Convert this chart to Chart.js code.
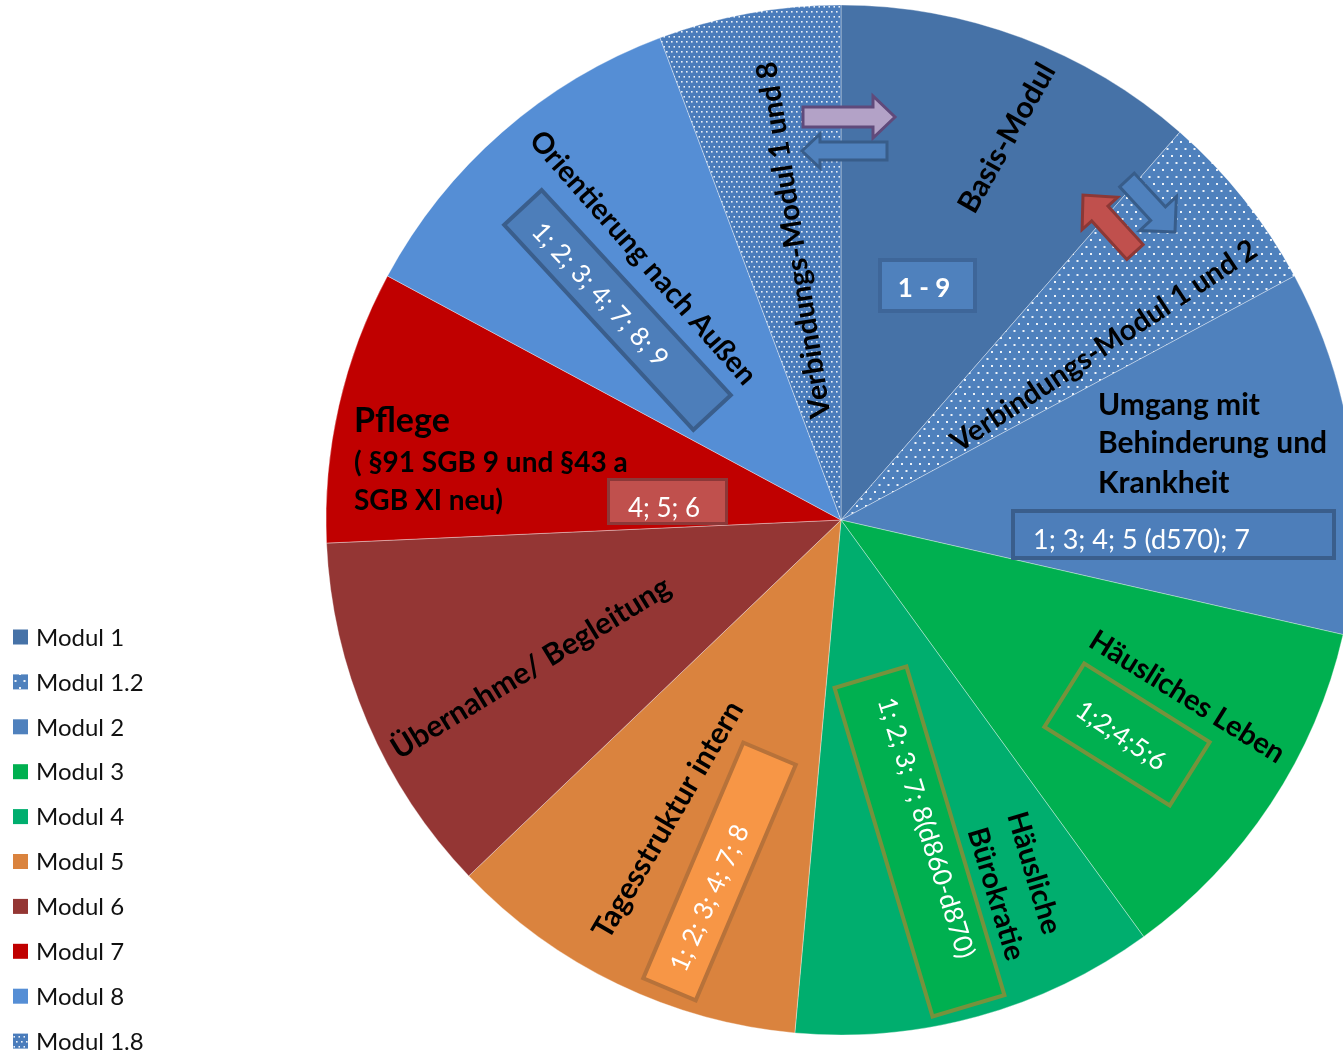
<!DOCTYPE html>
<html>
<head>
<meta charset="utf-8">
<script src="https://cdn.jsdelivr.net/npm/chart.js@4.4.1/dist/chart.umd.min.js"></script>
<style>
  html, body { margin: 0; padding: 0; background: #fff; overflow: hidden; }
  #wrap { position: absolute; left: 0; top: 0; width: 1343px; height: 1053px; }
</style>
</head>
<body>
<div id="wrap"><canvas id="pieChart"></canvas></div>
<script>
// data
var labels = ['Modul 1', 'Modul 1.2', 'Modul 2', 'Modul 3', 'Modul 4', 'Modul 5', 'Modul 6', 'Modul 7', 'Modul 8', 'Modul 1.8'];
var shares = [2, 1, 2, 2, 2, 2, 2, 1.5, 2, 1];
var sliceColors = ['#4672A7', 'dots12', '#4F81BD', '#00B050', '#00AE6E', '#DA833E', '#943634', '#C00000', '#558ED5', 'dots18'];

var FONT = 'Lato, "Open Sans", sans-serif';

// dotted fills for the connection slices
function dotPattern(bg, w, h, dots, size) {
  var c = document.createElement('canvas');
  c.width = w; c.height = h;
  var g = c.getContext('2d');
  g.fillStyle = bg;
  g.fillRect(0, 0, w, h);
  g.fillStyle = 'rgba(255,255,255,0.9)';
  dots.forEach(function (d) { g.fillRect(d[0], d[1], size, size); });
  return g.createPattern(c, 'repeat');
}
var pat = {
  dots12: dotPattern('#4F81BD', 9, 14, [[1, 1], [5.5, 8]], 2),
  dots18: dotPattern('#4A7CBB', 5, 10, [[1, 1], [3.5, 6]], 1.6)
};
var fills = sliceColors.map(function (c) { return pat[c] || c; });

function rotText(ctx, txt, x, y, deg, font, color) {
  ctx.save();
  ctx.translate(x, y);
  ctx.rotate(deg * Math.PI / 180);
  ctx.font = font;
  ctx.fillStyle = color;
  ctx.textAlign = 'center';
  ctx.textBaseline = 'middle';
  ctx.fillText(txt, 0, 0);
  ctx.restore();
}

function rotBox(ctx, x, y, w, h, deg, fill, stroke, lw) {
  ctx.save();
  ctx.translate(x, y);
  ctx.rotate(deg * Math.PI / 180);
  ctx.fillStyle = fill;
  ctx.fillRect(-w / 2, -h / 2, w, h);
  ctx.lineWidth = lw;
  ctx.strokeStyle = stroke;
  ctx.strokeRect(-w / 2, -h / 2, w, h);
  ctx.restore();
}

function blockArrow(ctx, tx, ty, px, py, sh, hl, hh, fill, stroke) {
  var len = Math.hypot(px - tx, py - ty);
  ctx.save();
  ctx.translate(tx, ty);
  ctx.rotate(Math.atan2(py - ty, px - tx));
  ctx.beginPath();
  ctx.moveTo(0, -sh);
  ctx.lineTo(len - hl, -sh);
  ctx.lineTo(len - hl, -hh);
  ctx.lineTo(len, 0);
  ctx.lineTo(len - hl, hh);
  ctx.lineTo(len - hl, sh);
  ctx.lineTo(0, sh);
  ctx.closePath();
  ctx.fillStyle = fill;
  ctx.fill();
  ctx.lineWidth = 3;
  ctx.strokeStyle = stroke;
  ctx.lineJoin = 'miter';
  ctx.stroke();
  ctx.restore();
}

var annotations = {
  id: 'annotations',
  afterDatasetsDraw: function (chart) {
    var ctx = chart.ctx;
    var arc = chart.getDatasetMeta(0).data[0];
    var cx = arc.x, cy = arc.y, k = arc.outerRadius / 515;
    function X(d) { return cx + d * k; }
    function Y(d) { return cy + d * k; }
    var B = function (s) { return 'bold ' + Math.round(s * k) + 'px ' + FONT; };
    var N = function (s) { return Math.round(s * k) + 'px ' + FONT; };

    // Modul 1
    rotText(ctx, 'Basis-Modul', X(166), Y(-382), -60.5, B(30), '#000');
    rotBox(ctx, X(86.5), Y(-234.5), 95 * k, 51 * k, 0, '#4F81BD', '#3E6699', 4);
    rotText(ctx, '1 - 9', X(83), Y(-231), 0, B(26), '#fff');
    // Modul 1.8 / 1.2
    rotText(ctx, 'Verbindungs-Modul 1 und 8', X(-47), Y(-280), -98.8, B(29), '#000');
    rotText(ctx, 'Verbindungs-Modul 1 und 2', X(263), Y(-174), -33.4, B(29), '#000');
    blockArrow(ctx, X(-38), Y(-403), X(54), Y(-403), 10 * k, 22 * k, 21 * k, '#B3A2C7', '#604A7B');
    blockArrow(ctx, X(46), Y(-369), X(-39), Y(-369), 9 * k, 18 * k, 17 * k, '#4F81BD', '#385D8A');
    blockArrow(ctx, X(294), Y(-268), X(242), Y(-325), 11 * k, 25 * k, 24 * k, '#C0504D', '#8C3836');
    blockArrow(ctx, X(286), Y(-340), X(334), Y(-288), 10 * k, 25 * k, 25 * k, '#4F81BD', '#385D8A');
    // Modul 2
    ctx.font = B(30);
    ctx.fillStyle = '#000';
    ctx.textAlign = 'left';
    ctx.textBaseline = 'alphabetic';
    ctx.fillText('Umgang mit', X(257), Y(-105));
    ctx.fillText('Behinderung und', X(257), Y(-67));
    ctx.fillText('Krankheit', X(257), Y(-27));
    rotBox(ctx, X(332.5), Y(14.5), 321 * k, 47 * k, 0, '#4D7EBA', '#3A5E8C', 4);
    ctx.font = N(27);
    ctx.fillStyle = '#fff';
    ctx.textAlign = 'left';
    ctx.fillText('1; 3; 4; 5 (d570); 7', X(192), Y(29));
    // Modul 3
    rotText(ctx, 'Häusliches Leben', X(346), Y(177), 31.9, B(28.5), '#000');
    rotBox(ctx, X(286), Y(214.5), 148 * k, 75 * k, 32.1, '#00B050', '#76923C', 4);
    rotText(ctx, '1;2;4;5;6', X(280), Y(216), 34, N(26), '#fff');
    // Modul 4
    rotBox(ctx, X(78.5), Y(321.5), 343 * k, 75 * k, 73.4, '#00B050', '#76923C', 4);
    rotText(ctx, '1; 2; 3; 7; 8(d860-d870)', X(85), Y(308), 72.7, N(26), '#fff');
    rotText(ctx, 'Häusliche', X(193), Y(353), 73.3, B(29), '#000');
    rotText(ctx, 'Bürokratie', X(155), Y(374), 73.3, B(29), '#000');
    // Modul 5
    rotText(ctx, 'Tagesstruktur intern', X(-173), Y(300), -59.7, B(30), '#000');
    rotBox(ctx, X(-121.5), Y(351.5), 256 * k, 57 * k, -67, '#F79646', '#B7723A', 4);
    rotText(ctx, '1; 2; 3; 4; 7; 8', X(-131), Y(378), -66, N(26), '#fff');
    // Modul 6
    rotText(ctx, 'Übernahme/ Begleitung', X(-310), Y(148), -31.4, B(30), '#000');
    // Modul 7
    ctx.font = B(34);
    ctx.fillStyle = '#000';
    ctx.textAlign = 'left';
    ctx.textBaseline = 'alphabetic';
    ctx.fillText('Pflege', X(-487), Y(-88));
    ctx.font = B(28);
    ctx.fillText('( §91 SGB 9 und §43 a', X(-487), Y(-48));
    ctx.fillText('SGB XI neu)', X(-487), Y(-10));
    rotBox(ctx, X(-173.5), Y(-18.5), 118 * k, 44 * k, 0, '#C0504D', '#8C3838', 3);
    ctx.font = N(26);
    ctx.fillStyle = '#fff';
    ctx.textAlign = 'center';
    ctx.fillText('4; 5; 6', X(-177), Y(-3));
    // Modul 8
    rotText(ctx, 'Orientierung nach Außen', X(-198), Y(-262), 48.7, B(29), '#000');
    rotBox(ctx, X(-223.5), Y(-210), 279 * k, 51 * k, 47.3, '#4D7EBA', '#3A5E8C', 4);
    rotText(ctx, '1; 2; 3; 4; 7; 8; 9', X(-241), Y(-225), 47, N(26), '#fff');
  }
};

// legend drawn at the lower left
var sideLegend = {
  id: 'sideLegend',
  afterDraw: function (chart) {
    var ctx = chart.ctx;
    var ds = chart.data.datasets[0];
    ctx.save();
    ctx.font = '24px ' + FONT;
    ctx.textAlign = 'left';
    ctx.textBaseline = 'middle';
    chart.data.labels.forEach(function (lab, i) {
      var y = 637 + i * 44.9;
      ctx.fillStyle = ds.backgroundColor[i];
      ctx.fillRect(13, y - 7.5, 15, 15);
      ctx.fillStyle = '#111';
      ctx.fillText(lab, 36, y + 1);
    });
    ctx.restore();
  }
};

var ctxP = document.getElementById('pieChart').getContext('2d');
var pieChart = new Chart(ctxP, {
  type: 'pie',
  data: {
    labels: labels,
    datasets: [{
      data: shares,
      backgroundColor: fills,
      borderColor: 'rgba(255,255,255,0.35)',
      borderWidth: 1,
      radius: 515
    }]
  },
  options: {
    responsive: true,
    maintainAspectRatio: false,
    animation: false,
    layout: { padding: { left: 339, right: 0, top: 0, bottom: 13 } },
    plugins: {
      legend: { display: false },
      tooltip: { enabled: false }
    }
  },
  plugins: [annotations, sideLegend]
});
</script>
</body>
</html>
